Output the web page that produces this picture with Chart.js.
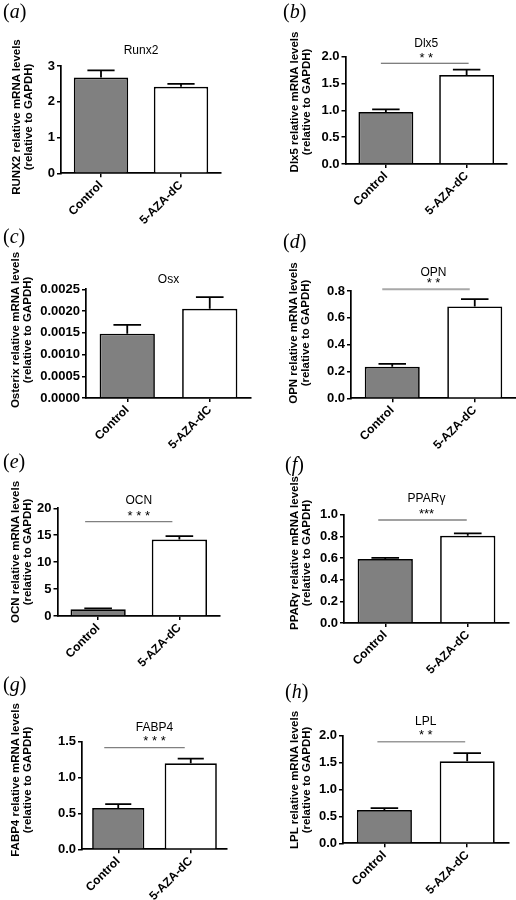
<!DOCTYPE html>
<html><head><meta charset="utf-8">
<script src="https://cdn.jsdelivr.net/npm/chart.js@4/dist/chart.umd.min.js"></script>
<style>
html,body{margin:0;padding:0;background:#fff}
body{width:516px;height:900px;position:relative;overflow:hidden;font-family:"Liberation Sans",Arial,sans-serif;color:#000}
.cell{position:absolute;width:258px;height:225px}
.cell canvas{position:absolute;left:0;top:0}
.plabel{position:absolute;font-family:"Liberation Serif","Times New Roman",serif;font-size:20px;line-height:20px;white-space:nowrap}
.plabel i{font-style:italic}
.ytitle{position:absolute;font-weight:bold;font-size:11.5px;line-height:12px;text-align:center;white-space:nowrap;transform:translate(-50%,-50%) rotate(-90deg)}
</style></head><body>
<script>
// ---------- data ----------
const groups = ['Control', '5-AZA-dC'];
const panelLetters = ['a','b','c','d','e','f','g','h'];
const genes = ['Runx2','Dlx5','Osx','OPN','OCN','PPARγ','FABP4','LPL'];
const yTitleMain = ['RUNX2 relative mRNA levels','Dlx5 relative mRNA levels','Osterix relative mRNA levels','OPN relative mRNA levels','OCN relative mRNA levels','PPARγ relative mRNA levels','FABP4 relative mRNA levels','LPL relative mRNA levels'];
const yTitleSub = '(relative to GAPDH)';

const runx2Mean = [2.68, 2.42],   runx2Sem = [0.20, 0.08];
const dlx5Mean  = [0.97, 1.66],   dlx5Sem  = [0.05, 0.10];
const osxMean   = [0.00148, 0.00205], osxSem = [0.00020, 0.00027];
const opnMean   = [0.235, 0.685], opnSem   = [0.022, 0.055];
const ocnMean   = [1.25, 14.2],   ocnSem   = [0.15, 0.65];
const pparMean  = [0.59, 0.805],  pparSem  = [0.012, 0.022];
const fabp4Mean = [0.575, 1.20],  fabp4Sem = [0.055, 0.065];
const lplMean   = [0.62, 1.525],  lplSem   = [0.035, 0.15];

const means = [runx2Mean, dlx5Mean, osxMean, opnMean, ocnMean, pparMean, fabp4Mean, lplMean];
const sems  = [runx2Sem, dlx5Sem, osxSem, opnSem, ocnSem, pparSem, fabp4Sem, lplSem];
const significance = ['', '* *', '', '* *', '* * *', '***', '* * *', '* *'];

const yMax   = [3, 2.0, 0.0025, 0.8, 20, 1.0, 1.5, 2.0];
const yStep  = [1, 0.5, 0.0005, 0.2, 5, 0.2, 0.5, 0.5];
const yDec   = [0, 1, 4, 1, 0, 1, 1, 1];

// ---------- layout (pixels inside each 258x225 cell) ----------
const layoutCfg = [
 {cx:0,   cy:0,   left:61,   right:221,   top:66,   bottom:173.3, titleY:50.7, starsY:0,    sigY:0,    sigDx:[0,0],   sigColor:'#666', sigW:1.2, barPct:0.68,  yt:[22,117],  lab:[3,1]},
 {cx:258, cy:0,   left:87.5, right:249,   top:56.7, bottom:164,   titleY:44,   starsY:55,   sigY:63.3, sigDx:[-5,2],  sigColor:'#555', sigW:1.1, barPct:0.68,  yt:[41.5,102],lab:[25,1]},
 {cx:0,   cy:225, left:86,   right:251,   top:64.3, bottom:173,   titleY:54.5, starsY:0,    sigY:0,    sigDx:[0,0],   sigColor:'#666', sigW:1.2, barPct:0.67,  yt:[21,105],  lab:[3,1]},
 {cx:258, cy:225, left:93,   right:258,   top:66,   bottom:173.3, titleY:47.7, starsY:55,   sigY:64.3, sigDx:[-10,-5],sigColor:'#a8a8a8', sigW:2, barPct:0.667, yt:[41,108],  lab:[25,6]},
 {cx:0,   cy:450, left:57.5, right:220,   top:58.3, bottom:166,   titleY:50.5, starsY:63,   sigY:71.7, sigDx:[-13,-7],sigColor:'#808080', sigW:1.3, barPct:0.68,  yt:[21,102],  lab:[3,1]},
 {cx:258, cy:450, left:86,   right:251,   top:64.7, bottom:173,   titleY:48.3, starsY:61,   sigY:70,   sigDx:[-7,-1], sigColor:'#444', sigW:1.1, barPct:0.67,  yt:[41.5,103],lab:[27,4]},
 {cx:0,   cy:675, left:82,   right:227,   top:66.7, bottom:174.3, titleY:52.3, starsY:63.3, sigY:72.7, sigDx:[-14,-6],sigColor:'#808080', sigW:1.3, barPct:0.72,  yt:[21,105],  lab:[3,-1]},
 {cx:258, cy:675, left:85,   right:250.6, top:60.7, bottom:168.3, titleY:46.7, starsY:57.3, sigY:66.7, sigDx:[-7,-2], sigColor:'#999', sigW:1.6, barPct:0.665, yt:[41.5,105],lab:[27,6]}
];

Chart.defaults.font.family = "'Liberation Sans', Arial, sans-serif";
Chart.defaults.color = '#000';

const errorBars = {
  id: 'errorBars',
  afterDatasetsDraw(chart, args, opts) {
    const ctx = chart.ctx, ys = chart.scales.y;
    const ds = chart.data.datasets[0];
    chart.getDatasetMeta(0).data.forEach((bar, i) => {
      const yTop = ys.getPixelForValue(ds.data[i] + ds.sem[i]);
      const half = bar.width * opts.capRatio / 2;
      ctx.save();
      ctx.strokeStyle = '#000';
      ctx.lineWidth = opts.lineWidth;
      ctx.beginPath();
      ctx.moveTo(bar.x, bar.y);
      ctx.lineTo(bar.x, yTop);
      ctx.moveTo(bar.x - half, yTop);
      ctx.lineTo(bar.x + half, yTop);
      ctx.stroke();
      ctx.restore();
    });
  }
};

const sigMark = {
  id: 'sigMark',
  afterDatasetsDraw(chart, args, opts) {
    if (!opts.text) return;
    const ctx = chart.ctx, xs = chart.scales.x, ca = chart.chartArea;
    const x1 = xs.getPixelForValue(0) + opts.dx[0];
    const x2 = xs.getPixelForValue(1) + opts.dx[1];
    ctx.save();
    ctx.strokeStyle = opts.color;
    ctx.lineWidth = opts.width;
    ctx.beginPath();
    ctx.moveTo(x1, opts.lineY);
    ctx.lineTo(x2, opts.lineY);
    ctx.stroke();
    ctx.fillStyle = '#000';
    ctx.font = "13px 'Liberation Sans', Arial, sans-serif";
    ctx.textAlign = 'center';
    ctx.textBaseline = 'middle';
    ctx.fillText(opts.text, (ca.left + ca.right) / 2, opts.starsY + 3);
    ctx.restore();
  }
};

genes.forEach((gene, i) => {
  const L = layoutCfg[i];
  const cell = document.createElement('div');
  cell.className = 'cell';
  cell.style.left = L.cx + 'px';
  cell.style.top = L.cy + 'px';
  document.body.appendChild(cell);

  const canvas = document.createElement('canvas');
  canvas.width = 258; canvas.height = 225;
  canvas.style.width = '258px'; canvas.style.height = '225px';
  cell.appendChild(canvas);

  const lab = document.createElement('div');
  lab.className = 'plabel';
  lab.style.left = L.lab[0] + 'px';
  lab.style.top = L.lab[1] + 'px';
  lab.innerHTML = '(<i>' + panelLetters[i] + '</i>)';
  cell.appendChild(lab);

  const yt = document.createElement('div');
  yt.className = 'ytitle';
  yt.style.left = L.yt[0] + 'px';
  yt.style.top = L.yt[1] + 'px';
  yt.innerHTML = yTitleMain[i] + '<br>' + yTitleSub;
  cell.appendChild(yt);

  const lh = 12 * 1.2;
  new Chart(canvas, {
    type: 'bar',
    data: {
      labels: groups,
      datasets: [{
        data: means[i],
        sem: sems[i],
        backgroundColor: ['#808080', '#ffffff'],
        borderColor: '#000',
        borderWidth: 1.7,
        borderSkipped: 'start',
        barPercentage: L.barPct,
        categoryPercentage: 1
      }]
    },
    options: {
      responsive: false,
      animation: false,
      devicePixelRatio: 1,
      layout: { padding: { left: 0, top: 0, bottom: 0, right: 258 - L.right } },
      plugins: {
        legend: { display: false },
        tooltip: { enabled: false },
        title: {
          display: true, text: gene, fullSize: false, color: '#000',
          font: { size: 12, weight: 'normal', lineHeight: 1.2 },
          padding: { top: L.titleY - lh / 2, bottom: L.top - L.titleY - lh / 2 }
        },
        errorBars: { capRatio: 0.5, lineWidth: 1.8 },
        sigMark: { text: significance[i], starsY: L.starsY, lineY: L.sigY, dx: L.sigDx, color: L.sigColor, width: L.sigW }
      },
      scales: {
        x: {
          grid: { display: true, drawOnChartArea: false, offset: false, tickLength: 4, color: '#000', lineWidth: 1.5 },
          border: { display: true, color: '#000', width: 1.7 },
          ticks: { color: '#000', font: { size: 12, weight: 'bold' }, maxRotation: 45, minRotation: 45, autoSkip: false, padding: 1 },
          afterFit(s) { s.height = 225 - L.bottom; }
        },
        y: {
          min: 0, max: yMax[i],
          grid: { display: true, drawOnChartArea: false, tickLength: 4, color: '#000', lineWidth: 1.5 },
          border: { display: true, color: '#000', width: 1.7 },
          ticks: { stepSize: yStep[i], color: '#000', font: { size: 13, weight: 'bold' }, padding: 2,
                   callback: v => Number(v).toFixed(yDec[i]) },
          afterFit(s) { s.width = L.left; }
        }
      }
    },
    plugins: [errorBars, sigMark]
  });
});
</script>
</body></html>
